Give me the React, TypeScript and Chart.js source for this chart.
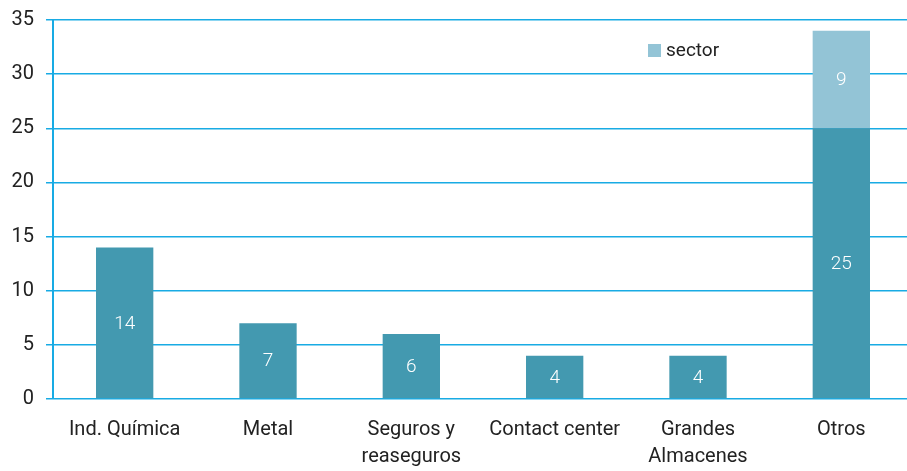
import React, { useEffect, useRef } from "react";
import { Chart, registerables } from "chart.js";

Chart.register(...registerables);

const categories: (string | string[])[] = [
  "Ind. Química",
  "Metal",
  ["Seguros y", "reaseguros"],
  "Contact center",
  ["Grandes", "Almacenes"],
  "Otros",
];
const baseValues = [14, 7, 6, 4, 4, 25];
const sectorValues = [null, null, null, null, null, 9];
const baseLabel = "total";
const sectorLabel = "sector";

const FONT = "Roboto, 'DejaVu Sans', sans-serif";
const DARK = "#4399B0";
const LIGHT = "#93C4D6";
const GRID = "#18ABE4";
const SHIFT = 4;

const valueLabels = {
  id: "valueLabels",
  afterDatasetsDraw(chart: any) {
    const ctx = chart.ctx;
    ctx.save();
    ctx.fillStyle = "#ffffff";
    ctx.font = `300 19px ${FONT}`;
    ctx.textAlign = "center";
    ctx.textBaseline = "middle";
    chart.data.datasets.forEach((ds: any, i: number) => {
      const meta = chart.getDatasetMeta(i);
      meta.data.forEach((el: any, j: number) => {
        const v = ds.data[j];
        if (v === null || v === undefined) return;
        const p = el.getCenterPoint();
        ctx.fillText(String(v), p.x, p.y + 1);
      });
    });
    ctx.restore();
  },
};

const customLegend = {
  id: "customLegend",
  afterDraw(chart: any) {
    const ctx = chart.ctx;
    ctx.save();
    ctx.fillStyle = LIGHT;
    ctx.fillRect(648, 44 + SHIFT, 13, 13);
    ctx.fillStyle = "#222222";
    ctx.font = `19px ${FONT}`;
    ctx.textAlign = "left";
    ctx.textBaseline = "middle";
    ctx.fillText(sectorLabel, 666, 51 + SHIFT);
    ctx.restore();
  },
};

export default function App() {
  const ref = useRef<HTMLCanvasElement>(null);
  useEffect(() => {
    if (!ref.current) return;
    const chart = new Chart(ref.current, {
      type: "bar",
      data: {
        labels: categories,
        datasets: [
          {
            label: baseLabel,
            data: baseValues,
            backgroundColor: DARK,
            barPercentage: 0.4,
            categoryPercentage: 1,
          },
          {
            label: sectorLabel,
            data: sectorValues as any,
            backgroundColor: LIGHT,
            barPercentage: 0.4,
            categoryPercentage: 1,
          },
        ],
      },
      options: {
        animation: false,
        responsive: false,
        maintainAspectRatio: false,
        layout: { padding: { top: 5, right: 0, left: 0, bottom: 0 } },
        plugins: {
          legend: { display: false },
          tooltip: { enabled: false },
        },
        scales: {
          x: {
            stacked: true,
            grid: { display: false, drawTicks: false },
            border: { display: false },
            afterFit(scale: any) {
              scale.height = 72;
            },
            ticks: {
              color: "#222222",
              font: { family: FONT, size: 20, lineHeight: 1.35 },
              padding: 17,
              maxRotation: 0,
              autoSkip: false,
            },
          },
          y: {
            stacked: true,
            min: 0,
            max: 35,
            afterFit(scale: any) {
              scale.width = 53;
            },
            ticks: {
              stepSize: 5,
              color: "#222222",
              font: { family: FONT, size: 20 },
              padding: 12,
            },
            grid: {
              color: GRID,
              lineWidth: 1.5,
              tickLength: 7,
              tickColor: GRID,
            },
            border: { display: true, color: GRID, width: 2 },
          },
        },
      },
      plugins: [valueLabels, customLegend],
    });
    return () => chart.destroy();
  }, []);
  return (
    <div style={{ position: "fixed", left: 0, top: 0, width: 907, height: 471, overflow: "hidden", background: "#fff" }}>
      <canvas
        ref={ref}
        width={913}
        height={471 + SHIFT}
        style={{ position: "absolute", left: 0, top: -SHIFT }}
      />
    </div>
  );
}
